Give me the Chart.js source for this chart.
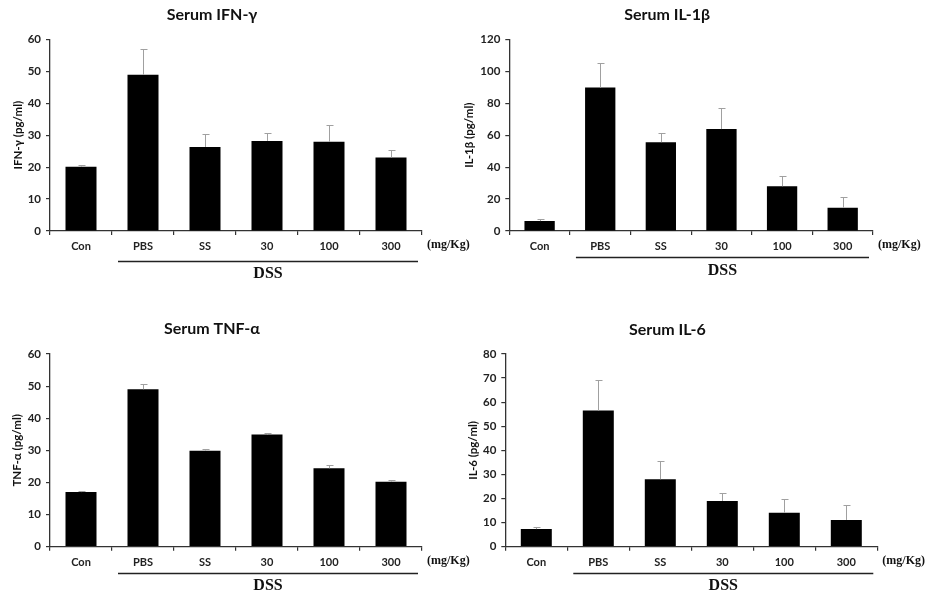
<!DOCTYPE html>
<html><head><meta charset="utf-8">
<script src="https://cdn.jsdelivr.net/npm/chart.js@4.4.1/dist/chart.umd.min.js"></script>
<style>
html,body{margin:0;padding:0;background:#fff;width:927px;height:595px;overflow:hidden}
canvas{position:absolute}
</style></head><body>
<canvas id="c1"></canvas><canvas id="c2"></canvas><canvas id="c3"></canvas><canvas id="c4"></canvas>
<script>
// ---- data ----
const categories = ['Con', 'PBS', 'SS', '30', '100', '300'];
const ifngValues = [20.1, 48.9, 26.3, 28.2, 27.9, 23.0];
const ifngSD     = [0.6, 8.0, 4.1, 2.6, 5.3, 2.2];
const il1bValues = [6.2, 89.8, 55.6, 63.8, 28.0, 14.6];
const il1bSD     = [1.3, 15.6, 5.7, 13.1, 6.3, 6.7];
const tnfaValues = [17.0, 49.0, 29.9, 34.9, 24.4, 20.2];
const tnfaSD     = [0.3, 1.8, 0.6, 0.6, 0.9, 0.7];
const il6Values  = [7.3, 56.5, 28.0, 19.0, 14.1, 11.1];
const il6SD      = [0.9, 12.7, 7.6, 3.3, 5.6, 6.1];
const titles  = ['Serum IFN-γ', 'Serum IL-1β', 'Serum TNF-α', 'Serum IL-6'];
const yTitles = ['IFN-γ (pg/ml)', 'IL-1β (pg/ml)', 'TNF-α (pg/ml)', 'IL-6 (pg/ml)'];
const yMaxes  = [60, 120, 60, 80];
const ySteps  = [10, 20, 10, 10];
const unitLabel = '(mg/Kg)';
const groupLabel = 'DSS';

// ---- layout ----
const panels = [
  {id:'c1', left:0,   top:0,   w:480, h:300, values:ifngValues, sd:ifngSD, k:0, yAxisW:50,   areaTop:39.3, areaBottom:231,   areaRight:422,   yTitlePad:11,  titleY:15,   lineDy:29.5, dssDy:43},
  {id:'c2', left:460, top:0,   w:467, h:300, values:il1bValues, sd:il1bSD, k:1, yAxisW:49.3, areaTop:39.3, areaBottom:231,   areaRight:413,   yTitlePad:2.5, titleY:15,   lineDy:26,   dssDy:40},
  {id:'c3', left:0,   top:300, w:480, h:295, values:tnfaValues, sd:tnfaSD, k:2, yAxisW:50,   areaTop:54,   areaBottom:246.7, areaRight:422,   yTitlePad:10.5,titleY:29.3, lineDy:26,   dssDy:39.3},
  {id:'c4', left:460, top:300, w:467, h:295, values:il6Values,  sd:il6SD,  k:3, yAxisW:45.3, areaTop:54,   areaBottom:246.7, areaRight:417.3, yTitlePad:6,   titleY:30,   lineDy:26,   dssDy:39.3}
];

const SANS = 'Lato, "Open Sans", sans-serif';
const SERIF = '"Liberation Serif", "DejaVu Serif", serif';

const annot = {
  id: 'annot',
  afterDatasetsDraw(chart, args, opts) {
    const p = opts.panel;
    const {ctx, chartArea} = chart;
    const x = chart.scales.x, y = chart.scales.y;
    ctx.save();
    // error bars (upper only)
    ctx.strokeStyle = '#a0a0a0';
    ctx.lineWidth = 1;
    p.values.forEach((v, i) => {
      const px = Math.round(x.getPixelForValue(i)) + 0.5;
      const y0 = y.getPixelForValue(v);
      const y1 = Math.round(y.getPixelForValue(v + p.sd[i])) + 0.5;
      ctx.beginPath();
      ctx.moveTo(px, y0); ctx.lineTo(px, y1);
      ctx.moveTo(px - 3, y1); ctx.lineTo(px + 4, y1);
      ctx.stroke();
    });
    // title
    ctx.fillStyle = '#111';
    ctx.font = 'bold 16px ' + SANS;
    ctx.textAlign = 'center';
    ctx.textBaseline = 'middle';
    ctx.fillText(titles[p.k], (chartArea.left + chartArea.right) / 2 - 24, p.titleY);
    // unit label
    ctx.font = 'bold 12px ' + SERIF;
    ctx.textAlign = 'left';
    ctx.fillText(unitLabel, chartArea.right + 5, chartArea.bottom + 14);
    // DSS group line
    const catW = x.getPixelForValue(1) - x.getPixelForValue(0);
    const x0 = x.getPixelForValue(1) - catW / 2 + 6;
    const x1 = chartArea.right - 4;
    const ly = Math.round(chartArea.bottom + p.lineDy) + 0.5;
    ctx.strokeStyle = '#222';
    ctx.lineWidth = 1.3;
    ctx.beginPath(); ctx.moveTo(x0, ly); ctx.lineTo(x1, ly); ctx.stroke();
    ctx.font = 'bold 16px ' + SERIF;
    ctx.textAlign = 'center';
    ctx.fillText(groupLabel, (x0 + x1) / 2, chartArea.bottom + p.dssDy);
    ctx.restore();
  }
};

panels.forEach(p => {
  const cv = document.getElementById(p.id);
  cv.width = p.w; cv.height = p.h;
  cv.style.left = p.left + 'px'; cv.style.top = p.top + 'px';
  new Chart(cv, {
    type: 'bar',
    data: {
      labels: categories,
      datasets: [{
        data: p.values,
        backgroundColor: '#000',
        borderWidth: 0,
        barPercentage: 0.5,
        categoryPercentage: 1.0
      }]
    },
    options: {
      responsive: false,
      animation: false,
      events: [],
      layout: {padding: {top: p.areaTop, right: p.w - p.areaRight, left: 0, bottom: 0}},
      plugins: {
        legend: {display: false},
        tooltip: {enabled: false},
        title: {display: false},
        annot: {panel: p}
      },
      scales: {
        x: {
          offset: true,
          afterFit(s) { s.height = p.h - p.areaBottom; },
          grid: {display: true, drawOnChartArea: false, drawTicks: true, tickLength: 4, offset: true, color: '#333', lineWidth: 1.2},
          border: {display: true, color: '#333', width: 1.3},
          ticks: {color: '#222', padding: 5, font: {family: SANS, size: 11, weight: 'bold'}}
        },
        y: {
          min: 0, max: yMaxes[p.k],
          afterFit(s) { s.width = p.yAxisW; },
          grid: {display: true, drawOnChartArea: false, drawTicks: true, tickLength: 4, color: '#333', lineWidth: 1.2},
          border: {display: true, color: '#333', width: 1.3},
          ticks: {stepSize: ySteps[p.k], color: '#222', padding: 5, font: {family: SANS, size: 11.5, weight: 'bold'}},
          title: {display: true, text: yTitles[p.k], color: '#111', padding: {top: p.yTitlePad, bottom: 0}, font: {family: SANS, size: 11.5, weight: 'bold'}}
        }
      }
    },
    plugins: [annot]
  });
});
</script>
</body></html>
